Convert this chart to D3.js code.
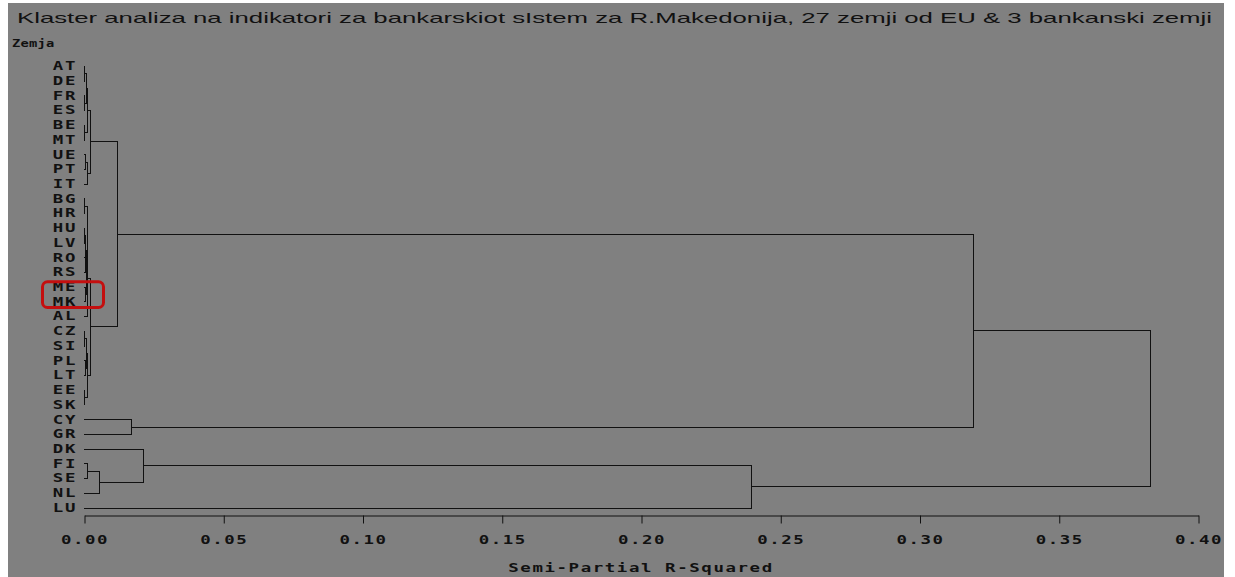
<!DOCTYPE html>
<html>
<head>
<meta charset="utf-8">
<script src="https://cdn.jsdelivr.net/npm/d3@7"></script>
<style>
  body { margin: 0; background: #fff; }
  svg { display: block; }
</style>
</head>
<body>
<div id="chart"></div>
<script>
const W = 1235, H = 577;

// countries, top to bottom as in the tree
const leaves = ["AT","DE","FR","ES","BE","MT","UE","PT","IT","BG","HR","HU","LV","RO","RS","ME","MK","AL",
                "CZ","SI","PL","LT","EE","SK","CY","GR","DK","FI","SE","NL","LU"];

// cluster history: new cluster, joined members, semi-partial R-squared
const joinId    = ["CL30","CL29","CL28","CL27","CL26","CL25","CL24","CL23","CL22","CL21",
                   "CL20","CL19","CL18","CL17","CL16","CL15","CL14","CL13","CL12","CL11",
                   "CL10","CL9","CL8","CL7","CL6","CL5","CL4","CL3","CL2","CL1"];
const joinA     = ["AT","FR","BE","BG","HU","CZ","EE","RO","ME","PL",
                   "UE","CL26","CL30","CL19","CL25","CL20","CL27","CL18","CL14","FI",
                   "CL16","CL13","CL12","CL11","CL9","CY","DK","CL4","CL6","CL2"];
const joinB     = ["DE","ES","MT","HR","LV","SI","SK","RS","MK","LT",
                   "PT","CL23","CL29","CL22","CL21","IT","CL17","CL28","AL","SE",
                   "CL24","CL15","CL10","NL","CL8","GR","CL7","LU","CL5","CL3"];
const joinR2    = [0.0001,0.0001,0.0001,0.0001,0.0001,0.0001,0.0001,0.0002,0.0002,0.0002,
                   0.0004,0.0005,0.0006,0.0007,0.0008,0.0009,0.0009,0.0011,0.0011,0.0011,
                   0.0010,0.0022,0.0022,0.0054,0.0118,0.0169,0.0212,0.2394,0.3191,0.3826];

const xTicks = [0, 0.05, 0.10, 0.15, 0.20, 0.25, 0.30, 0.35, 0.40];

const titleText = "Klaster analiza na indikatori za bankarskiot sIstem za R.Makedonija, 27 zemji od EU & 3 bankanski zemji";

const svg = d3.select("#chart")
    .append("svg")
    .attr("width", W)
    .attr("height", H);

// grey panel
svg.append("rect")
    .attr("x", 8).attr("y", 3)
    .attr("width", 1216).attr("height", H - 3)
    .attr("fill", "#808080");

const xScale = d3.scaleLinear()
    .domain([0, 0.40])
    .range([84, 1198]);
const yScale = d3.scalePoint()
    .domain(leaves)
    .range([66, 507.5]);

const monoFont = "'DejaVu Sans Mono', 'Liberation Mono', monospace";
const stretch = 1.45;

// title
svg.append("text")
    .attr("x", 17)
    .attr("y", 23)
    .attr("textLength", 1195)
    .attr("lengthAdjust", "spacingAndGlyphs")
    .attr("font-family", "'Liberation Sans', Arial, sans-serif")
    .attr("font-size", 14.5)
    .attr("fill", "#111")
    .text(titleText);

svg.append("text")
    .attr("transform", "translate(12,47) scale(1.25,1)")
    .attr("font-family", monoFont)
    .attr("font-weight", "bold")
    .attr("font-size", 11)
    .attr("letter-spacing", 0.2)
    .attr("fill", "#111")
    .text("Zemja");

// build tree positions
const pos = {};
leaves.forEach(function(d) {
    pos[d] = {y: yScale(d), h: 0};
});

const lines = [];
joinId.forEach(function(id, i) {
    const a = pos[joinA[i]], b = pos[joinB[i]];
    const h = joinR2[i];
    lines.push([xScale(a.h), a.y, xScale(h), a.y]);
    lines.push([xScale(b.h), b.y, xScale(h), b.y]);
    lines.push([xScale(h), a.y, xScale(h), b.y]);
    pos[id] = {y: (a.y + b.y) / 2, h: h};
});

svg.append("g")
    .selectAll("line")
    .data(lines)
    .enter().append("line")
    .attr("x1", d => Math.round(d[0]) + 0.5)
    .attr("y1", d => Math.round(d[1]) + 0.5)
    .attr("x2", d => Math.round(d[2]) + 0.5)
    .attr("y2", d => Math.round(d[3]) + 0.5)
    .attr("stroke", "#111")
    .attr("stroke-width", 1)
    .attr("stroke-linecap", "square");

// country labels
svg.append("g")
    .selectAll("text")
    .data(leaves)
    .enter().append("text")
    .attr("transform", d => "translate(77," + (yScale(d) + 4.3) + ") scale(" + stretch + ",1)")
    .attr("text-anchor", "end")
    .attr("font-family", monoFont)
    .attr("font-weight", "bold")
    .attr("font-size", 12)
    .attr("letter-spacing", 1.1)
    .attr("fill", "#111")
    .text(d => d);

// x axis
const xAxis = d3.axisBottom(xScale)
    .tickValues(xTicks)
    .tickFormat(d3.format(".2f"))
    .tickSize(8)
    .tickSizeOuter(0)
    .tickPadding(11.5);

const axisG = svg.append("g")
    .attr("transform", "translate(0.5,515.5)")
    .call(xAxis);

axisG.select(".domain").attr("stroke", "#111");
axisG.selectAll(".tick line").attr("stroke", "#111");
axisG.selectAll(".tick text")
    .attr("font-family", monoFont)
    .attr("font-weight", "bold")
    .attr("font-size", 12)
    .attr("letter-spacing", 1.1)
    .attr("fill", "#111")
    .attr("transform", "scale(" + stretch + ",1)");

svg.append("text")
    .attr("transform", "translate(" + ((xScale(0) + xScale(0.40)) / 2) + ",572) scale(" + stretch + ",1)")
    .attr("text-anchor", "middle")
    .attr("font-family", monoFont)
    .attr("font-weight", "bold")
    .attr("font-size", 12)
    .attr("letter-spacing", 1.1)
    .attr("fill", "#111")
    .text("Semi-Partial R-Squared");

// highlight box around ME and MK
svg.append("rect")
    .attr("x", 42.5)
    .attr("y", yScale("ME") - 5)
    .attr("width", 61)
    .attr("height", yScale("MK") - yScale("ME") + 11)
    .attr("rx", 5)
    .attr("fill", "none")
    .attr("stroke", "#c40f0f")
    .attr("stroke-width", 3);
</script>
</body>
</html>
